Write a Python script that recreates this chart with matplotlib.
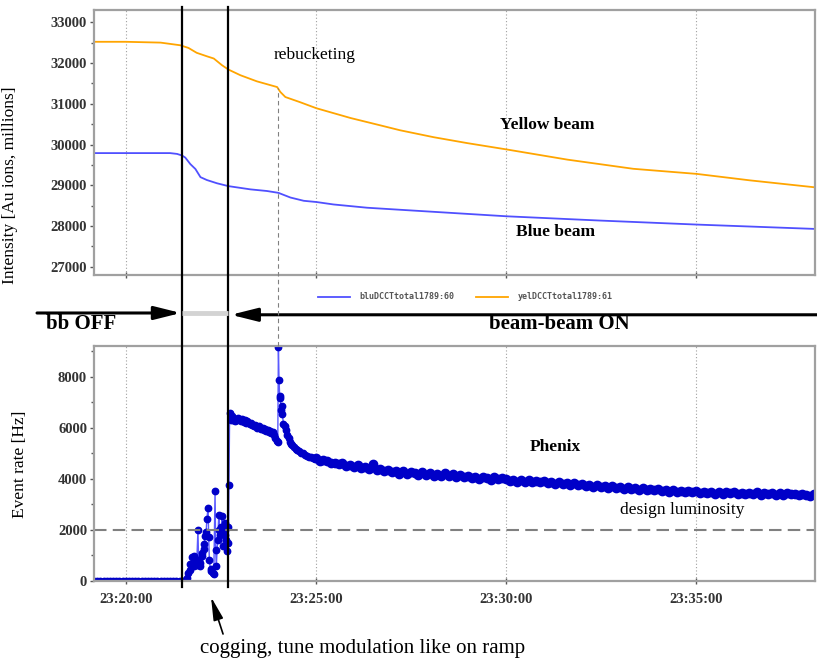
import numpy as np
import matplotlib
matplotlib.use('Agg')
import matplotlib.pyplot as plt
from matplotlib.lines import Line2D
from matplotlib.patches import FancyArrowPatch
from matplotlib.transforms import blended_transform_factory

plt.rcParams['font.family'] = 'Liberation Serif'

# time axis: seconds after 23:20:00
tick_secs = [0, 300, 600, 900]
tick_labels = ['23:20:00', '23:25:00', '23:30:00', '23:35:00']

# beam intensities [Au ions, millions]
yel_t = [-50, 0, 55, 86, 99, 112, 128, 139, 152, 162, 181, 207, 239, 244, 252, 275,
         301, 355, 402, 433, 486, 539, 601, 697, 801, 901, 986, 1088]
yel_v = [32520, 32520, 32500, 32435, 32370, 32250, 32165, 32110, 31945, 31840, 31700,
         31550, 31410, 31290, 31165, 31040, 30890, 30650, 30470, 30350, 30180, 30035,
         29880, 29630, 29405, 29280, 29120, 28950]
blu_t = [-50, 0, 70, 81, 89, 94, 102, 110, 118, 128, 144, 162, 197, 223, 241, 260, 281,
         301, 328, 381, 433, 601, 749, 901, 1088]
blu_v = [29790, 29790, 29790, 29770, 29730, 29680, 29520, 29400, 29200, 29130, 29050,
         28980, 28900, 28860, 28815, 28700, 28620, 28590, 28530, 28450, 28400, 28240,
         28135, 28037, 27930]

# Phenix event rate, before beam-beam on, cogging, spike at rebucketing
phx_t_early = [-50, -45, -40, -35, -30, -25, -20, -15, -10, -5, 0, 5, 10, 15, 20, 25, 30,
               35, 40, 45, 50, 55, 60, 65, 70, 75, 80, 85, 90,
               92, 95, 97, 99, 101, 102, 104, 105, 107, 108, 110, 111, 112, 114, 115, 117,
               118, 120, 121, 123, 124, 125, 127, 128, 130, 131, 132, 134, 135, 137, 139,
               141, 142, 143, 145, 147, 148, 149, 151, 152, 153, 154, 156, 157, 158, 160,
               161, 162, 163, 164,
               166, 168, 170, 172, 174, 176, 178, 180, 182, 184, 186, 188, 190, 192, 194,
               196, 198, 200, 202, 204, 206, 208, 210, 212, 214, 216, 218, 220, 222, 224,
               226, 228, 230, 232, 234, 236, 238, 240, 241, 242, 243, 244, 245, 246, 247,
               249, 251, 253, 255, 257, 259, 261, 263, 265, 268, 271, 274, 277, 280, 283,
               286, 289, 292, 295, 298]
phx_v_early = [0] * 29 + [
    0, 40, 120, 300, 430, 670, 560, 910, 950, 560, 700, 820, 620, 2000, 820, 700,
    560, 950, 1100, 1220, 1450, 1740, 1900, 2400, 2860, 1700, 820, 360, 450, 300, 240,
    3530, 1200, 560, 1600, 2590, 2000, 1800, 2100, 2520, 1900, 1350, 1800, 2270, 1600, 1150,
    2100, 1490, 3760, 6580,
    6300, 6450, 6300, 6250, 6350, 6280, 6380, 6300, 6250, 6320, 6220, 6280, 6200, 6260, 6180,
    6150, 6200, 6120, 6080, 6120, 6050, 6000, 6060, 5980, 5940, 5990, 5920, 5950, 5880, 5900,
    5830, 5870, 5780, 5820, 5700, 5600, 5480, 5450, 9150, 7850, 7250, 7180, 6700, 6850, 6550,
    6150, 6050, 5900, 5700, 5600, 5450, 5350, 5300, 5250, 5180, 5130, 5080, 5000, 4990, 4930,
    4900, 4860, 4850, 4800, 4780]

# Phenix event rate after 23:25:00, one reading every 6 s
phx_late_start = 300
phx_late_step = 6
phx_v_late = [
    4800, 4710, 4740, 4690, 4610, 4630, 4560, 4600, 4510, 4550,
    4460, 4520, 4410, 4470, 4380, 4560, 4340, 4380, 4290, 4350,
    4240, 4310, 4200, 4280, 4170, 4260, 4230, 4150, 4240, 4160,
    4210, 4120, 4190, 4090, 4230, 4110, 4170, 4060, 4140, 4080,
    4110, 4040, 4080, 3990, 4060, 4010, 3950, 4050, 3970, 4020,
    3990, 3900, 3960, 3880, 3950, 3870, 3930, 3850, 3910, 3860,
    3890, 3820, 3860, 3790, 3850, 3770, 3830, 3750, 3810, 3760,
    3790, 3700, 3760, 3690, 3740, 3660, 3720, 3640, 3700, 3650,
    3690, 3600, 3660, 3580, 3640, 3570, 3620, 3550, 3610, 3560,
    3600, 3520, 3570, 3490, 3550, 3480, 3530, 3460, 3510, 3470,
    3510, 3430, 3480, 3420, 3490, 3410, 3470, 3400, 3460, 3420,
    3470, 3390, 3450, 3380, 3440, 3400, 3460, 3370, 3430, 3390,
    3450, 3370, 3420, 3360, 3430, 3380, 3410, 3340, 3400, 3350,
    3300, 3380]

design_lumi = 2000
bb_off_end = 89      # vertical line, beam-beam switched off before
bb_on_start = 162    # vertical line, beam-beam on after
rebucket_t = 241

phx_t_late = phx_late_start + phx_late_step * np.arange(len(phx_v_late))

fig = plt.figure(figsize=(8.17, 6.62), dpi=100)
ax1 = fig.add_axes([0.1151, 0.5846, 0.8825, 0.4003])
ax2 = fig.add_axes([0.1151, 0.1224, 0.8825, 0.3549])

blu_line, = ax1.plot(blu_t, blu_v, color='#5050ff', lw=1.3, label='bluDCCTtotal1789:60')
yel_line, = ax1.plot(yel_t, yel_v, color='#ffa500', lw=1.3, label='yelDCCTtotal1789:61')

# thin connecting line, then markers (denser look on the long decay)
phx_t = np.concatenate([phx_t_early, phx_t_late])
phx_v = np.concatenate([phx_v_early, phx_v_late])
ax2.plot(phx_t, phx_v, '-', color='#5a5aff', lw=1.0)
ax2.plot(phx_t_early, phx_v_early, 'o', ms=4.6, mfc='#0000c8', mec='#0000c8')
ax2.plot(phx_t_late, phx_v_late, 'o', ms=6.0, mfc='#0000c8', mec='#0000c8')
ax2.axhline(design_lumi, color='#808080', lw=1.5, dashes=(6, 3))

for ax in (ax1, ax2):
    ax.set_xlim(-50, 1088)
    ax.set_xticks(tick_secs)
    ax.grid(axis='x', color='#a0a0a0', lw=0.8, linestyle=(0, (1, 2)))
    for sp in ax.spines.values():
        sp.set_color('#a0a0a0')
        sp.set_linewidth(1.6)
    ax.tick_params(axis='both', which='major', direction='out', length=3, width=1,
                   color='#555555', labelcolor='#333333', labelsize=10.5, pad=2)
    ax.tick_params(axis='y', which='minor', direction='out', length=2, width=1, color='#555555')

ax1.set_ylim(26800, 33300)
ax1.set_yticks(np.arange(27000, 33001, 1000))
ax1.set_yticks(np.arange(27500, 33000, 1000), minor=True)
ax1.set_xticklabels([])
ax1.tick_params(axis='x', direction='inout', length=5)

ax2.set_ylim(-15, 9200)
ax2.set_yticks(np.arange(0, 8001, 2000))
ax2.set_yticks(np.arange(1000, 9001, 2000), minor=True)
ax2.set_xticklabels(tick_labels)
ax2.tick_params(axis='x', direction='inout', length=5, pad=6)

for lab in ax1.get_yticklabels() + ax2.get_yticklabels() + ax2.get_xticklabels():
    lab.set_fontweight('bold')

ax1.set_ylabel('Intensity [Au ions, millions]', fontsize=12.5)
ax1.yaxis.set_label_coords(-0.1054, 0.34)
ax2.set_ylabel('Event rate [Hz]', fontsize=12.5)
ax2.yaxis.set_label_coords(-0.0915, 0.498)

ax1.legend(handles=[blu_line, yel_line], loc='center', ncol=2, frameon=False,
           bbox_to_anchor=(0.5698, 0.5514), bbox_transform=fig.transFigure,
           prop={'family': 'DejaVu Sans Mono', 'size': 6, 'weight': 'bold'},
           labelcolor='#555555',
           handlelength=3.8, handletextpad=1.2, columnspacing=2.6, borderpad=0)

ax1.text(234, 32192, 'rebucketing', fontsize=12.5, va='center')
ax1.text(591, 30478, 'Yellow beam', fontsize=12.5, fontweight='bold', va='center')
ax1.text(616, 27857, 'Blue beam', fontsize=12.5, fontweight='bold', va='center')
ax2.text(638, 5255, 'Phenix', fontsize=12.5, fontweight='bold', va='center')
ax2.text(780, 2784, 'design luminosity', fontsize=12.5, va='center')

# lines and arrows spanning both panels (x in data seconds, y in figure fraction)
trans = blended_transform_factory(ax1.transData, fig.transFigure)
for t in (bb_off_end, bb_on_start):
    fig.add_artist(Line2D([t, t], [0.1133, 0.9894], transform=trans, color='black', lw=1.6))
fig.add_artist(Line2D([rebucket_t, rebucket_t], [0.4773, 0.867], transform=trans,
                      color='#808080', lw=0.8, dashes=(4, 3)))
fig.add_artist(Line2D([bb_off_end, bb_on_start], [0.5272, 0.5272], transform=trans,
                      color='#d3d3d3', lw=3.5, solid_capstyle='butt'))
arrow_style = '-|>,head_length=1.6,head_width=0.4'
fig.add_artist(FancyArrowPatch((-140, 0.5272), (bb_off_end - 2, 0.5272), transform=trans,
                               arrowstyle=arrow_style, mutation_scale=10, lw=2.2,
                               color='black', shrinkA=0, shrinkB=0))
fig.add_artist(FancyArrowPatch((1100, 0.5245), (bb_on_start + 4, 0.5245), transform=trans,
                               arrowstyle=arrow_style, mutation_scale=10, lw=2.2,
                               color='black', shrinkA=0, shrinkB=0))

fig.text(0.0563, 0.5106, 'bb OFF', fontsize=15, fontweight='bold', va='center')
fig.text(0.5985, 0.5106, 'beam-beam ON', fontsize=15, fontweight='bold', va='center')

fig.text(0.2448, 0.0211, 'cogging, tune modulation like on ramp', fontsize=15, va='center')
fig.add_artist(FancyArrowPatch((0.273, 0.0423), (0.2583, 0.0982), transform=fig.transFigure,
                               arrowstyle='-|>,head_length=1.4,head_width=0.3',
                               mutation_scale=10, lw=1.2, color='black',
                               shrinkA=0, shrinkB=0))

fig.savefig('out.png', dpi=100, facecolor='white')
